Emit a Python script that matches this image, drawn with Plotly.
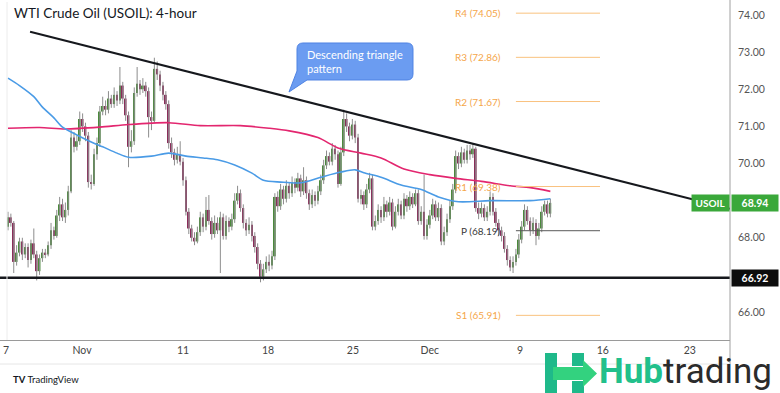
import plotly.graph_objects as go

# ---------------- DATA ----------------
chart_title = "WTI Crude Oil (USOIL): 4-hour"

opens = [68.30,68.55,68.40,67.35,67.60,67.90,67.55,67.75,67.40,67.85,
         67.55,67.10,67.45,67.60,67.55,67.80,68.20,68.05,68.60,68.90,
         68.55,68.75,69.25,70.70,70.45,70.60,71.20,71.00,70.75,69.50,
         69.45,70.25,70.55,71.40,71.55,71.45,71.75,71.60,71.85,71.70,
         72.10,71.75,71.30,70.45,70.60,71.90,72.15,72.00,72.10,71.95,
         71.25,71.15,72.55,72.40,72.10,71.85,71.60,70.55,70.30,70.10,
         70.25,70.05,69.55,68.70,68.25,68.00,67.90,68.15,68.55,68.30,
         68.75,68.45,68.10,68.40,68.20,68.55,68.05,68.45,68.30,68.50,
         69.00,69.20,68.80,68.40,68.20,68.35,68.05,67.75,67.30,66.95,
         67.15,67.35,67.25,67.50,69.10,68.85,69.30,69.05,69.40,69.20,
         69.50,69.35,69.60,69.25,69.55,69.20,68.90,69.15,69.00,69.25,
         69.55,69.95,70.20,70.05,70.40,70.25,69.45,70.30,71.20,71.00,
         70.75,71.05,70.70,69.05,69.15,68.90,69.30,69.60,68.30,68.45,
         68.75,68.55,68.90,68.70,68.95,68.30,68.70,68.90,68.60,69.05,
         68.85,69.10,68.90,69.20,68.45,68.70,68.05,68.35,68.60,68.90,
         68.55,68.80,67.90,68.15,68.50,68.85,69.30,70.20,70.00,70.30,
         70.10,70.35,70.25,70.40,68.80,68.65,68.80,68.55,68.70,69.10,
         68.70,68.40,68.20,68.05,67.70,67.40,67.20,67.35,67.55,67.95,
         68.30,68.75,68.45,68.20,68.40,68.05,68.25,68.70,68.90,68.65]

highs = [68.70,68.65,68.45,67.80,68.00,68.00,67.85,67.85,67.95,68.25,
         67.65,67.55,67.70,67.70,67.90,68.40,68.30,68.75,69.10,69.05,
         68.95,69.40,70.90,70.85,70.75,71.40,71.35,71.10,70.85,69.70,
         70.40,70.70,71.55,71.80,71.70,71.95,71.85,72.05,71.95,72.60,
         72.20,71.85,71.40,70.90,72.05,72.60,72.25,72.30,72.20,72.05,
         71.40,72.85,72.75,72.50,72.20,71.95,71.70,70.70,70.40,70.45,
         70.60,70.15,69.65,68.80,68.35,68.15,68.30,68.70,68.65,69.10,
         69.15,68.55,68.60,68.55,68.70,68.65,68.60,68.55,68.65,69.20,
         69.40,69.30,68.90,68.50,68.55,68.45,68.15,67.85,67.40,67.30,
         67.50,67.55,67.65,69.20,69.25,69.45,69.40,69.55,69.50,69.65,
         69.60,69.75,69.70,69.90,69.65,69.30,69.30,69.25,69.40,69.70,
         70.10,70.35,70.30,70.55,70.50,70.35,70.45,71.45,71.35,71.10,
         71.20,71.15,70.80,69.30,69.25,69.45,69.75,69.70,68.60,68.90,
         68.85,69.10,69.00,69.10,69.05,68.85,69.05,69.00,69.20,69.15,
         69.25,69.20,69.30,69.30,68.85,69.70,68.50,68.75,69.05,69.00,
         68.95,68.90,68.30,68.65,69.00,69.45,70.35,70.30,70.45,70.40,
         70.50,70.50,70.55,70.45,68.95,68.95,68.90,68.85,69.25,69.20,
         68.80,68.50,68.30,68.15,67.80,67.50,67.50,67.70,68.10,68.45,
         68.90,68.85,68.55,68.55,68.50,68.40,68.85,69.00,69.00,69.05]

lows = [68.20,68.30,67.05,67.25,67.50,67.40,67.45,67.20,67.30,67.45,
        66.85,67.00,67.35,67.45,67.50,67.70,67.95,68.00,68.45,68.45,
        68.40,68.60,69.20,70.30,70.35,70.50,70.85,70.60,69.35,69.30,
        69.40,70.10,70.45,71.30,71.30,71.35,71.50,71.50,71.55,71.60,
        71.60,71.15,69.90,70.30,70.50,71.80,71.85,71.90,71.80,70.70,
        70.90,71.10,72.25,71.95,71.70,71.45,70.40,70.15,69.95,70.00,
        69.95,69.40,68.60,68.10,67.90,67.80,67.85,68.05,68.15,68.20,
        68.35,67.95,68.00,68.10,67.05,67.95,67.95,68.15,68.20,68.40,
        68.90,68.70,68.25,68.05,68.10,67.90,67.60,67.15,66.80,66.85,
        67.05,67.10,67.15,67.40,68.70,68.75,68.90,68.95,69.05,69.10,
        69.20,69.25,69.10,69.15,69.05,68.75,68.80,68.85,68.90,69.15,
        69.45,69.85,69.95,69.95,70.10,69.35,69.40,70.20,70.85,70.60,
        70.65,70.55,68.95,68.90,68.75,68.80,69.20,68.20,68.20,68.35,
        68.40,68.45,68.55,68.60,68.20,68.25,68.60,68.50,68.50,68.70,
        68.75,68.80,68.85,68.35,68.35,67.95,67.95,68.25,68.50,68.45,
        68.45,67.80,67.80,68.05,68.40,68.75,69.20,69.85,69.90,70.00,
        70.00,70.10,70.15,68.70,68.50,68.55,68.45,68.45,68.60,68.60,
        68.30,68.05,67.90,67.60,67.25,67.10,67.05,67.25,67.45,67.85,
        68.20,68.35,68.05,68.10,67.80,67.95,68.15,68.60,68.55,68.55]

closes = [68.55,68.40,67.35,67.60,67.90,67.55,67.75,67.40,67.85,67.55,
          67.10,67.45,67.60,67.55,67.80,68.20,68.05,68.60,68.90,68.55,
          68.75,69.25,70.70,70.45,70.60,71.20,71.00,70.75,69.50,69.45,
          70.25,70.55,71.40,71.55,71.45,71.75,71.60,71.85,71.70,72.10,
          71.75,71.30,70.45,70.60,71.90,72.15,72.00,72.10,71.95,71.25,
          71.15,72.55,72.40,72.10,71.85,71.60,70.55,70.30,70.10,70.25,
          70.05,69.55,68.70,68.25,68.00,67.90,68.15,68.55,68.30,68.75,
          68.45,68.10,68.40,68.20,68.55,68.05,68.45,68.30,68.50,69.00,
          69.20,68.80,68.40,68.20,68.35,68.05,67.75,67.30,66.95,67.15,
          67.35,67.25,67.50,69.10,68.85,69.30,69.05,69.40,69.20,69.50,
          69.35,69.60,69.25,69.55,69.20,68.90,69.15,69.00,69.25,69.55,
          69.95,70.20,70.05,70.40,70.25,69.45,70.30,71.20,71.00,70.75,
          71.05,70.70,69.05,69.15,68.90,69.30,69.60,68.30,68.45,68.75,
          68.55,68.90,68.70,68.95,68.30,68.70,68.90,68.60,69.05,68.85,
          69.10,68.90,69.20,68.45,68.70,68.05,68.35,68.60,68.90,68.55,
          68.80,67.90,68.15,68.50,68.85,69.30,70.20,70.00,70.30,70.10,
          70.35,70.25,70.40,68.80,68.65,68.80,68.55,68.70,69.10,68.70,
          68.40,68.20,68.05,67.70,67.40,67.20,67.35,67.55,67.95,68.30,
          68.75,68.45,68.20,68.40,68.05,68.25,68.70,68.90,68.65,68.94]

# moving averages (bar index, price)
ma_blue_idx = [0, 4, 9, 12, 16, 19, 24, 29, 33, 38, 42, 50, 56, 62, 68, 73, 79,
               85, 89, 95, 102, 109, 116, 121, 124, 130, 137, 144, 150, 157, 168, 182, 189]
ma_blue_val = [72.30, 72.10, 71.80, 71.52, 71.23, 70.98, 70.77, 70.58, 70.45, 70.28, 70.17,
               70.20, 70.28, 70.20, 70.15, 70.10, 69.96, 69.74, 69.55, 69.50, 69.48, 69.63,
               69.77, 69.83, 69.75, 69.63, 69.42, 69.30, 69.10, 68.97, 69.00, 69.00, 69.05]
ma_pink_idx = [0, 11, 20, 32, 42, 56, 67, 81, 91, 98, 108, 115, 123, 130, 138, 147,
               156, 165, 175, 182, 189]
ma_pink_val = [70.95, 70.97, 70.93, 70.98, 71.05, 71.10, 71.02, 71.02, 70.95, 70.88, 70.70,
               70.42, 70.28, 70.15, 69.85, 69.70, 69.60, 69.52, 69.40, 69.35, 69.25]

trend_idx = [7.7, 251.6]
trend_val = [73.55, 68.78]
support_level = 66.92
last_price = 68.94
symbol = "USOIL"

pivot_names = ["R4", "R3", "R2", "R1", "P", "S1"]
pivot_levels = [74.05, 72.86, 71.67, 69.38, 68.19, 65.91]
pivot_start, pivot_end = 177.0, 206.3

x_tick_pos = [-0.7, 25.8, 61.0, 90.6, 120.2, 147.0, 178.4, 207.3, 237.6]
x_tick_text = ["7", "Nov", "11", "18", "25", "Dec", "9", "16", "23"]
y_tick_vals = [66, 68, 70, 71, 72, 73, 74]

callout_text = "Descending triangle<br>pattern"

# ---------------- STYLE / GEOMETRY ----------------
W, H = 780, 393
PL, PR, PT, PB = 0, 730, 5, 340          # plot area in pixels
X_RANGE = [-2.787, 251.6]
Y_RANGE = [65.246, 74.27]
FONT = "Lato"
GREEN = "#4b8a3c"
RED = "#8b2d5b"
ORANGE = "#f5a64a"


def px(xp):
    return (xp - PL) / (PR - PL)


def py(yp):
    return (PB - yp) / (PB - PT)


n = len(closes)
idx = list(range(n))
body_base = [min(o, c) for o, c in zip(opens, closes)]
body_h = [max(abs(c - o), 0.025) for o, c in zip(opens, closes)]
body_col = [GREEN if c >= o else RED for o, c in zip(opens, closes)]

wx, wy = [], []
for i, hi, lo in zip(idx, highs, lows):
    wx += [i, i, None]
    wy += [lo, hi, None]

fig = go.Figure()

# wicks
fig.add_trace(go.Scatter(x=wx, y=wy, mode="lines",
                         line=dict(color="#8d8d8d", width=1), hoverinfo="skip"))
# bodies
fig.add_trace(go.Bar(x=idx, y=body_h, base=body_base, width=0.62,
                     marker=dict(color=body_col, line=dict(width=0)), hoverinfo="skip"))
# moving averages
fig.add_trace(go.Scatter(x=ma_pink_idx, y=ma_pink_val, mode="lines",
                         line=dict(color="#e3266f", width=1.6, shape="spline", smoothing=0.8)))
fig.add_trace(go.Scatter(x=ma_blue_idx, y=ma_blue_val, mode="lines",
                         line=dict(color="#4a9be6", width=1.6, shape="spline", smoothing=0.8)))
# trendline
fig.add_trace(go.Scatter(x=trend_idx, y=trend_val, mode="lines",
                         line=dict(color="#16181d", width=2)))
# support line
fig.add_trace(go.Scatter(x=[X_RANGE[0], X_RANGE[1]], y=[support_level, support_level],
                         mode="lines", line=dict(color="#16181d", width=2.5)))

shapes = []
annotations = []

# pivot lines + labels
for name, lvl in zip(pivot_names, pivot_levels):
    col = "#5a5a5a" if name == "P" else "#f9c27f"
    shapes.append(dict(type="line", xref="x", yref="y", x0=pivot_start, x1=pivot_end,
                       y0=lvl, y1=lvl, line=dict(color=col, width=1)))
    annotations.append(dict(x=pivot_start - 4.5, y=lvl, xref="x", yref="y",
                            text=f"{name} ({lvl:.2f})", showarrow=False, xanchor="right",
                            yanchor="middle",
                            font=dict(family=FONT, size=10,
                                      color="#3a3a3a" if name == "P" else ORANGE)))

# frame lines
shapes.append(dict(type="line", xref="paper", yref="paper", x0=1, x1=1,
                   y0=py(364), y1=py(0), line=dict(color="#a0a0a0", width=1)))
shapes.append(dict(type="line", xref="paper", yref="paper", x0=0, x1=1,
                   y0=py(364), y1=py(364), line=dict(color="#e6e6e6", width=1)))
shapes.append(dict(type="line", xref="paper", yref="paper", x0=px(7), x1=px(7),
                   y0=py(340), y1=py(2), line=dict(color="#ececec", width=1)))

# callout bubble
pts = [("M", 303, 43), ("L", 407, 43), ("Q", 413, 43, 413, 49), ("L", 413, 74),
       ("Q", 413, 80, 407, 80), ("L", 307, 80), ("L", 289, 92), ("L", 297, 71),
       ("L", 297, 49), ("Q", 297, 43, 303, 43)]
path = ""
for p in pts:
    cmd = p[0]
    coords = p[1:]
    s = " ".join(f"{px(coords[k]):.5f},{py(coords[k + 1]):.5f}" for k in range(0, len(coords), 2))
    path += f"{cmd}{s} "
path += "Z"
shapes.append(dict(type="path", xref="paper", yref="paper", path=path,
                   fillcolor="#6b9cf1", line=dict(color="#4f83e3", width=1)))
annotations.append(dict(x=px(305), y=py(61.5), xref="paper", yref="paper", text=callout_text,
                        showarrow=False, xanchor="left", yanchor="middle", align="left",
                        font=dict(family=FONT, size=11, color="white")))

# title
annotations.append(dict(x=px(12), y=py(13), xref="paper", yref="paper", text=chart_title,
                        showarrow=False, xanchor="left", yanchor="middle",
                        font=dict(family=FONT, size=13.5, color="#131722")))

# right-side labels
annotations.append(dict(x=1, y=last_price, xref="paper", yref="y", text=f"<b>{last_price:.2f}</b>",
                        showarrow=False, xanchor="left", yanchor="middle", xshift=1,
                        width=44, height=14, bgcolor="#3aa83a",
                        font=dict(family=FONT, size=10.5, color="white")))
annotations.append(dict(x=1, y=last_price, xref="paper", yref="y", text=f"<b>{symbol}</b>",
                        showarrow=False, xanchor="right", yanchor="middle",
                        width=35, height=14, bgcolor="#3aa83a",
                        font=dict(family=FONT, size=10, color="white")))
annotations.append(dict(x=1, y=support_level, xref="paper", yref="y",
                        text=f"<b>{support_level:.2f}</b>",
                        showarrow=False, xanchor="left", yanchor="middle", xshift=1,
                        width=44, height=14, bgcolor="#0d0d0d",
                        font=dict(family=FONT, size=10.5, color="white")))

# TradingView watermark
annotations.append(dict(x=px(11), y=py(379), xref="paper", yref="paper",
                        text="<b>TV</b> TradingView", showarrow=False,
                        xanchor="left", yanchor="middle",
                        font=dict(family=FONT, size=9.5, color="#131722")))

# Hubtrading logo
HG = "#1fb98a"
HL = "#33d27f"
shapes.append(dict(type="rect", xref="paper", yref="paper", x0=px(545), x1=px(557),
                   y0=py(393), y1=py(353), fillcolor=HG, line=dict(width=0)))
shapes.append(dict(type="rect", xref="paper", yref="paper", x0=px(572), x1=px(584),
                   y0=py(366), y1=py(353), fillcolor=HG, line=dict(width=0)))
shapes.append(dict(type="rect", xref="paper", yref="paper", x0=px(572), x1=px(584),
                   y0=py(393), y1=py(381), fillcolor=HG, line=dict(width=0)))
arrow = [(553, 367), (583, 367), (583, 360), (597, 373.5), (583, 387), (583, 380), (553, 380)]
apath = "M" + " L".join(f"{px(a):.5f},{py(b):.5f}" for a, b in arrow) + " Z"
shapes.append(dict(type="path", xref="paper", yref="paper", path=apath,
                   fillcolor=HL, line=dict(width=0)))
annotations.append(dict(x=px(597), y=py(371), xref="paper", yref="paper",
                        text="<span style='color:#22c08b'><b>Hub</b></span>trading",
                        showarrow=False, xanchor="left", yanchor="middle",
                        font=dict(family="Roboto", size=35, color="#2b2b2b")))

fig.update_layout(
    width=W, height=H,
    margin=dict(l=PL, r=W - PR, t=PT, b=H - PB),
    paper_bgcolor="white", plot_bgcolor="white",
    showlegend=False, barmode="overlay",
    shapes=shapes, annotations=annotations,
    font=dict(family=FONT),
    xaxis=dict(range=X_RANGE, showgrid=False, zeroline=False, showline=True,
               linecolor="#9a9a9a", linewidth=1, ticks="",
               tickmode="array", tickvals=x_tick_pos, ticktext=x_tick_text,
               tickfont=dict(family=FONT, size=10.5, color="#444444")),
    yaxis=dict(range=Y_RANGE, side="right", showgrid=False, zeroline=False,
               showline=False, ticks="", tickmode="array", tickvals=y_tick_vals,
               ticktext=[f"{v:.2f}" for v in y_tick_vals], ticklabelstandoff=7,
               tickfont=dict(family=FONT, size=10.5, color="#555555")),
)

fig.write_html("out.html", config={"displayModeBar": False},
               post_script="document.body.style.margin='0px';")
